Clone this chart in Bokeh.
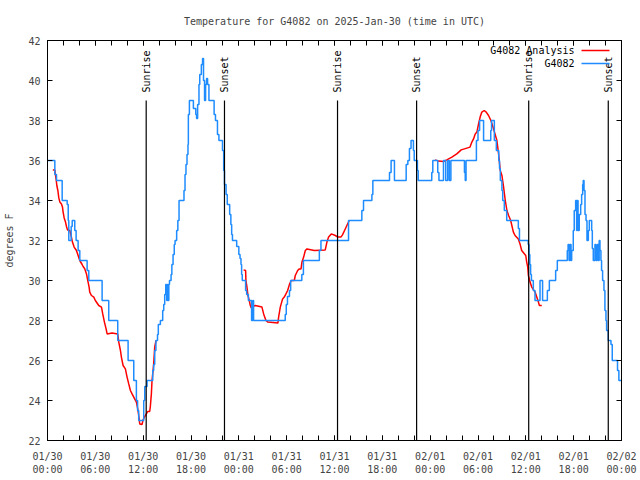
import math
from bokeh.plotting import figure
from bokeh.models import Range1d, FixedTicker, LinearAxis, Label, Arrow
from bokeh.core.properties import value
from bokeh.embed import file_html
from bokeh.resources import INLINE

NaN = float("nan")

TITLE = "Temperature for G4082 on 2025-Jan-30 (time in UTC)"
Y_LABEL = "degrees F"
SERIES_NAMES = ["G4082 Analysis", "G4082"]

# x ticks: hours since 2025-01-30 00:00 UTC
tick_hours = [0, 6, 12, 18, 24, 30, 36, 42, 48, 54, 60, 66, 72]
tick_dates = ["01/30", "01/30", "01/30", "01/30", "01/31", "01/31", "01/31",
              "01/31", "02/01", "02/01", "02/01", "02/01", "02/02"]
tick_times = ["00:00", "06:00", "12:00", "18:00", "00:00", "06:00", "12:00",
              "18:00", "00:00", "06:00", "12:00", "18:00", "00:00"]
minor_tick_hours = list(range(0, 73, 2))
y_ticks = [22, 24, 26, 28, 30, 32, 34, 36, 38, 40, 42]

# sunrise / sunset (hours since 01/30 00:00 UTC)
sun_hours = [12.38, 22.2, 36.38, 46.3, 60.36, 70.34]
sun_labels = ["Sunrise", "Sunset", "Sunrise", "Sunset", "Sunrise", "Sunset"]

# observations (step series): time in hours, temperature in F
obs_hours = [
    0.00, 0.92, 1.13, 1.84, 2.47, 2.60, 2.67, 2.97, 3.10, 3.42, 3.59, 3.84, 4.05,
    4.97, 5.18, 6.85, 7.68, 8.81, 10.11, 10.82, 11.15, 11.30, 11.44, 12.07, 12.20,
    12.49, 13.20, 13.32, 13.45, 13.60, 13.80, 13.90, 14.16, 14.45, 14.58, 14.70,
    14.83, 14.95, 15.05, 15.15, 15.22, 15.30, 15.50, 15.60, 15.75, 15.90, 16.00,
    16.20, 16.35, 16.50, 17.12, 17.25, 17.37, 17.50, 17.62, 17.67, 17.80, 18.30,
    18.60, 18.70, 18.83, 19.00, 19.10, 19.30, 19.45, 19.57, 19.70, 19.83, 19.95,
    20.08, 20.25, 20.90, 21.07, 21.32, 21.50, 21.95, 22.10, 22.20, 22.40, 22.55,
    22.85, 23.00, 23.10, 23.20, 23.73, 24.00, 24.15, 24.27, 24.35, 24.43, 24.85,
    24.98, 25.20, 25.60, 25.75, 25.85, 29.82, 29.95, 30.10, 30.35, 30.50, 31.90,
    32.10, 34.10, 34.30, 37.76, 39.43, 39.64, 40.69, 40.81, 42.90, 43.10, 43.52,
    44.99, 45.20, 45.40, 45.60, 45.90, 46.00, 46.40, 46.50, 48.20, 48.33, 48.95,
    49.10, 49.67, 49.95, 50.20, 50.40, 50.60, 52.30, 52.40, 52.50, 53.80, 54.00,
    54.20, 54.70, 55.60, 55.70, 56.05, 56.30, 56.60, 56.70, 56.80, 57.00, 57.10,
    57.30, 57.60, 59.06, 59.20, 60.30, 60.40, 60.50, 60.60, 60.70, 60.94, 61.15,
    61.78, 62.10, 62.70, 62.95, 63.74, 63.95, 65.20, 65.30, 65.42, 65.55, 65.67,
    65.75, 65.95, 66.07, 66.25, 66.37, 66.45, 66.55, 66.70, 66.88, 67.00, 67.13,
    67.20, 67.30, 67.42, 67.55, 67.67, 67.84, 67.96, 68.26, 68.34, 68.46, 68.67,
    68.80, 68.96, 69.10, 69.20, 69.30, 69.42, 69.50, 69.63, 69.80, 69.92, 70.05,
    70.13, 70.34, 70.68, 70.84, 71.50, 71.67, 72.00,
]
obs_temps = [
    36.0, 35.3, 35.0, 34.0, 33.8, 33.0, 32.0, 32.7, 33.0, 32.5, 32.0, 31.5, 31.0,
    30.5, 30.0, 29.0, 28.0, 27.0, 26.0, 25.0, 24.0, 23.5, 23.0, 24.0, 24.7,
    25.0, 25.5, 25.8, 26.5, 27.0, 27.3, 27.8, 28.0, 28.5, 28.8, 29.3,
    29.8, 29.0, 29.8, 29.0, 29.8, 30.0, 30.3, 30.8, 31.3, 31.8, 32.0,
    32.5, 33.0, 34.0, 34.5, 35.3, 35.8, 36.3, 36.8, 38.3, 39.0, 38.6,
    38.3, 38.1, 38.8, 39.8, 40.3, 40.8, 41.1, 40.0, 39.0, 39.8, 40.1,
    39.8, 39.0, 38.3, 38.0, 37.3, 37.0, 36.5, 35.5, 34.8, 34.3, 33.8,
    33.3, 32.8, 32.3, 32.0, 31.7, 31.3, 31.1, 30.8, 30.3, 30.0, 29.5,
    29.3, 29.0, 28.0, 29.0, 28.0, 28.3, 28.8, 29.2, 29.5, 30.0, 30.3,
    31.0, 31.5, 32.0, 33.0, 33.5, 34.0, 34.3, 35.0, 35.4, 36.0, 35.0,
    35.8, 36.0, 36.6, 37.0, 36.5, 36.0, 35.5, 35.0, 35.4, 36.0, 35.4,
    35.0, 36.0, 35.0, 36.0, 35.0, 36.0, 35.4, 35.0, 36.0, 37.0, 37.5,
    38.0, 37.0, 37.5, 38.0, 37.0, 36.5, 36.0, 35.6, 35.0, 34.5, 34.0,
    33.5, 33.0, 32.6, 32.0, 31.8, 31.3, 30.8, 30.3, 30.0, 29.5, 29.0,
    30.0, 29.0, 29.5, 30.0, 30.5, 31.0, 31.5, 31.8, 31.0, 31.8, 31.0,
    31.5, 32.5, 33.5, 34.0, 32.5, 34.0, 32.5, 33.3, 33.8, 34.3, 34.8,
    35.0, 34.5, 33.3, 33.0, 32.0, 32.5, 33.0, 32.5, 31.6, 31.0, 31.8,
    31.0, 31.8, 31.0, 32.0, 31.5, 31.0, 30.5, 30.0, 29.5, 28.5, 28.0,
    27.5, 27.0, 26.8, 26.0, 25.5, 25.0, 25.0,
]

# analysis (line series, NaN = no analysis)
ana_hours = [
    0.67, 0.92, 0.98, 1.10, 1.17, 1.30, 1.42, 1.55, 1.75, 1.88, 1.96, 2.09, 2.26,
    2.38, 2.51, 2.80, 3.00, 3.13, 3.34, 3.63, 3.84, 4.05, 4.34, 4.47, 4.68, 4.89,
    5.01, 5.22, 5.30, 5.51, 5.81, 6.00, 6.43, 6.77, 6.93, 7.14, 7.35, 7.48, 8.10,
    8.81, 8.94, 9.15, 9.27, 9.48, 9.77, 9.98, 10.19, 10.40, 10.61, 10.82, 11.15,
    11.32, 11.44, 11.57, 11.86, 11.99, 12.15, 12.40, 12.57, 12.82, 12.90, 13.03,
    13.11, 13.24, 13.32, 13.45, 13.61,
    19.0,
    24.60, 24.85, 24.89, 25.02, 25.14, 25.31, 25.44, 25.56, 25.73, 26.06, 26.90,
    27.11, 27.40, 27.65, 28.90, 28.99, 29.20, 29.49, 29.70, 29.91, 30.12, 30.37,
    30.58, 30.96, 31.08, 31.38, 31.59, 31.80, 31.92, 32.13, 32.34, 32.55, 33.47,
    34.84, 35.05, 35.26, 35.60, 36.10, 36.43, 36.80, 37.00, 37.26, 37.55, 37.85,
    43.0,
    48.62, 49.04, 49.67, 50.09, 50.72, 51.34, 51.89, 52.60, 53.00, 53.23, 53.44,
    53.65, 53.86, 54.07, 54.27, 54.48, 54.78, 55.03, 55.32, 55.62, 55.95, 56.37,
    56.58, 56.79, 57.00, 57.21, 57.42, 57.63, 57.84, 58.10, 58.44, 58.65, 59.06,
    59.27, 59.48, 59.99, 60.11, 60.24, 60.32, 60.53, 60.74, 61.16, 61.37, 61.58,
    61.70, 62.00,
]
ana_temps = [
    35.53, 35.53, 35.33, 35.00, 34.75, 34.50, 34.13, 33.92, 33.83, 33.67, 33.42,
    33.13, 32.92, 32.70, 32.53, 32.50, 32.17, 31.92, 31.67, 31.50, 31.25, 31.00,
    30.80, 30.70, 30.58, 30.33, 30.08, 29.67, 29.42, 29.25, 29.17, 29.00, 28.75,
    28.67, 28.33, 27.92, 27.58, 27.33, 27.37, 27.33, 26.92, 26.50, 26.17, 25.75,
    25.58, 25.17, 24.83, 24.50, 24.33, 24.17, 23.92, 23.58, 23.25, 22.83, 22.80,
    23.03, 23.17, 23.33, 23.45, 23.45, 23.70, 24.33, 25.00, 25.50, 25.83, 26.67,
    27.00,
    NaN,
    30.53, 30.50, 30.00, 29.67, 29.25, 29.00, 28.75, 28.63, 28.70, 28.75, 28.67,
    28.33, 28.00, 27.92, 27.87, 28.17, 28.67, 29.08, 29.17, 29.33, 29.50, 29.83,
    30.00, 30.00, 30.25, 30.50, 30.58, 30.58, 30.92, 31.17, 31.50, 31.58, 31.50,
    31.53, 31.92, 32.17, 32.33, 32.25, 32.17, 32.17, 32.28, 32.50, 32.75, 33.00,
    NaN,
    36.03, 35.97, 35.95, 36.03, 36.17, 36.33, 36.53, 36.62, 36.67, 36.92, 37.08,
    37.33, 37.42, 37.83, 38.17, 38.42, 38.50, 38.42, 38.25, 38.00, 37.58, 37.00,
    36.33, 35.50, 35.25, 34.67, 34.00, 33.50, 33.25, 33.00, 32.42, 32.25, 32.08,
    31.83, 31.50, 31.25, 30.92, 30.67, 30.25, 29.92, 29.67, 29.42, 29.17, 28.92,
    28.75, 28.75,
]

FONT = "DejaVu Sans Mono"
FS = "10px"
RED = "#ff0000"
BLUE = "#1e8cff"

p = figure(width=640, height=480, x_range=Range1d(0, 72), y_range=Range1d(22, 42),
           output_backend="svg", toolbar_location=None,
           min_border_left=47, min_border_right=19, min_border_top=40,
           min_border_bottom=40)
p.xgrid.visible = False
p.ygrid.visible = False
p.outline_line_color = "black"
p.outline_line_width = 1
p.outline_line_alpha = 1

p.title.text = TITLE
p.title.align = "center"
p.title.text_font = FONT
p.title.text_font_size = FS
p.title.text_font_style = "normal"
p.title.standoff = 27

# bottom axis
xa = p.xaxis[0]
xa.ticker = FixedTicker(ticks=tick_hours, minor_ticks=minor_tick_hours)
xa.major_label_overrides = {h: f"{d}\n{t}" for h, d, t in zip(tick_hours, tick_dates, tick_times)}
xa.major_label_text_font = FONT
xa.major_label_text_font_size = FS
xa.major_label_standoff = 10
xa.major_tick_in = 5
xa.major_tick_out = 0
xa.minor_tick_in = 5
xa.minor_tick_out = 0
xa.axis_line_color = "black"

# left axis
ya = p.yaxis[0]
ya.ticker = FixedTicker(ticks=y_ticks, minor_ticks=[])
ya.major_label_text_font = FONT
ya.major_label_text_font_size = FS
ya.major_label_standoff = 7
ya.major_tick_in = 5
ya.major_tick_out = 0
ya.minor_tick_in = 0
ya.minor_tick_out = 0
ya.axis_label = Y_LABEL
ya.axis_label_text_font = FONT
ya.axis_label_text_font_size = FS
ya.axis_label_text_font_style = "normal"
ya.axis_label_standoff = 10

# mirror axes (ticks only, no labels)
top = LinearAxis(ticker=FixedTicker(ticks=tick_hours, minor_ticks=minor_tick_hours),
                 major_label_overrides={h: "" for h in tick_hours},
                 major_label_text_font_size=FS, major_label_standoff=0,
                 major_tick_in=5, major_tick_out=0, minor_tick_in=5, minor_tick_out=0)
p.add_layout(top, "above")
right = LinearAxis(ticker=FixedTicker(ticks=y_ticks, minor_ticks=[]),
                   major_label_overrides={t: "" for t in y_ticks},
                   major_label_text_font_size=FS, major_label_standoff=0,
                   major_tick_in=5, major_tick_out=0, minor_tick_in=0, minor_tick_out=0)
p.add_layout(right, "right")

# data
p.line(ana_hours, ana_temps, line_color=RED, line_width=1.5)
p.step(obs_hours, obs_temps, mode="after", line_color=BLUE, line_width=1.5)

# sunrise / sunset
p.segment(x0=sun_hours, y0=[22] * len(sun_hours), x1=sun_hours, y1=[39] * len(sun_hours),
          line_color="black", line_width=1.2)
p.text(x=sun_hours, y=[39.4] * len(sun_hours), text=sun_labels, angle=math.pi / 2,
       text_align="left", text_baseline="middle", text_font=value(FONT),
       text_font_size=FS, text_color="black")

# key (top right, text then sample line)
key_y = [390, 377]
key_colors = [RED, BLUE]
for name, ky, col in zip(SERIES_NAMES, key_y, key_colors):
    p.add_layout(Label(x=527, y=ky, x_units="screen", y_units="screen", text=name,
                       text_align="right", text_baseline="middle",
                       text_font=FONT, text_font_size=FS, text_color="black"))
    p.add_layout(Arrow(end=None, x_start=534, y_start=ky, x_end=562, y_end=ky,
                       start_units="screen", end_units="screen",
                       line_color=col, line_width=1.5))

open("out.html", "w").write(file_html(p, INLINE))
